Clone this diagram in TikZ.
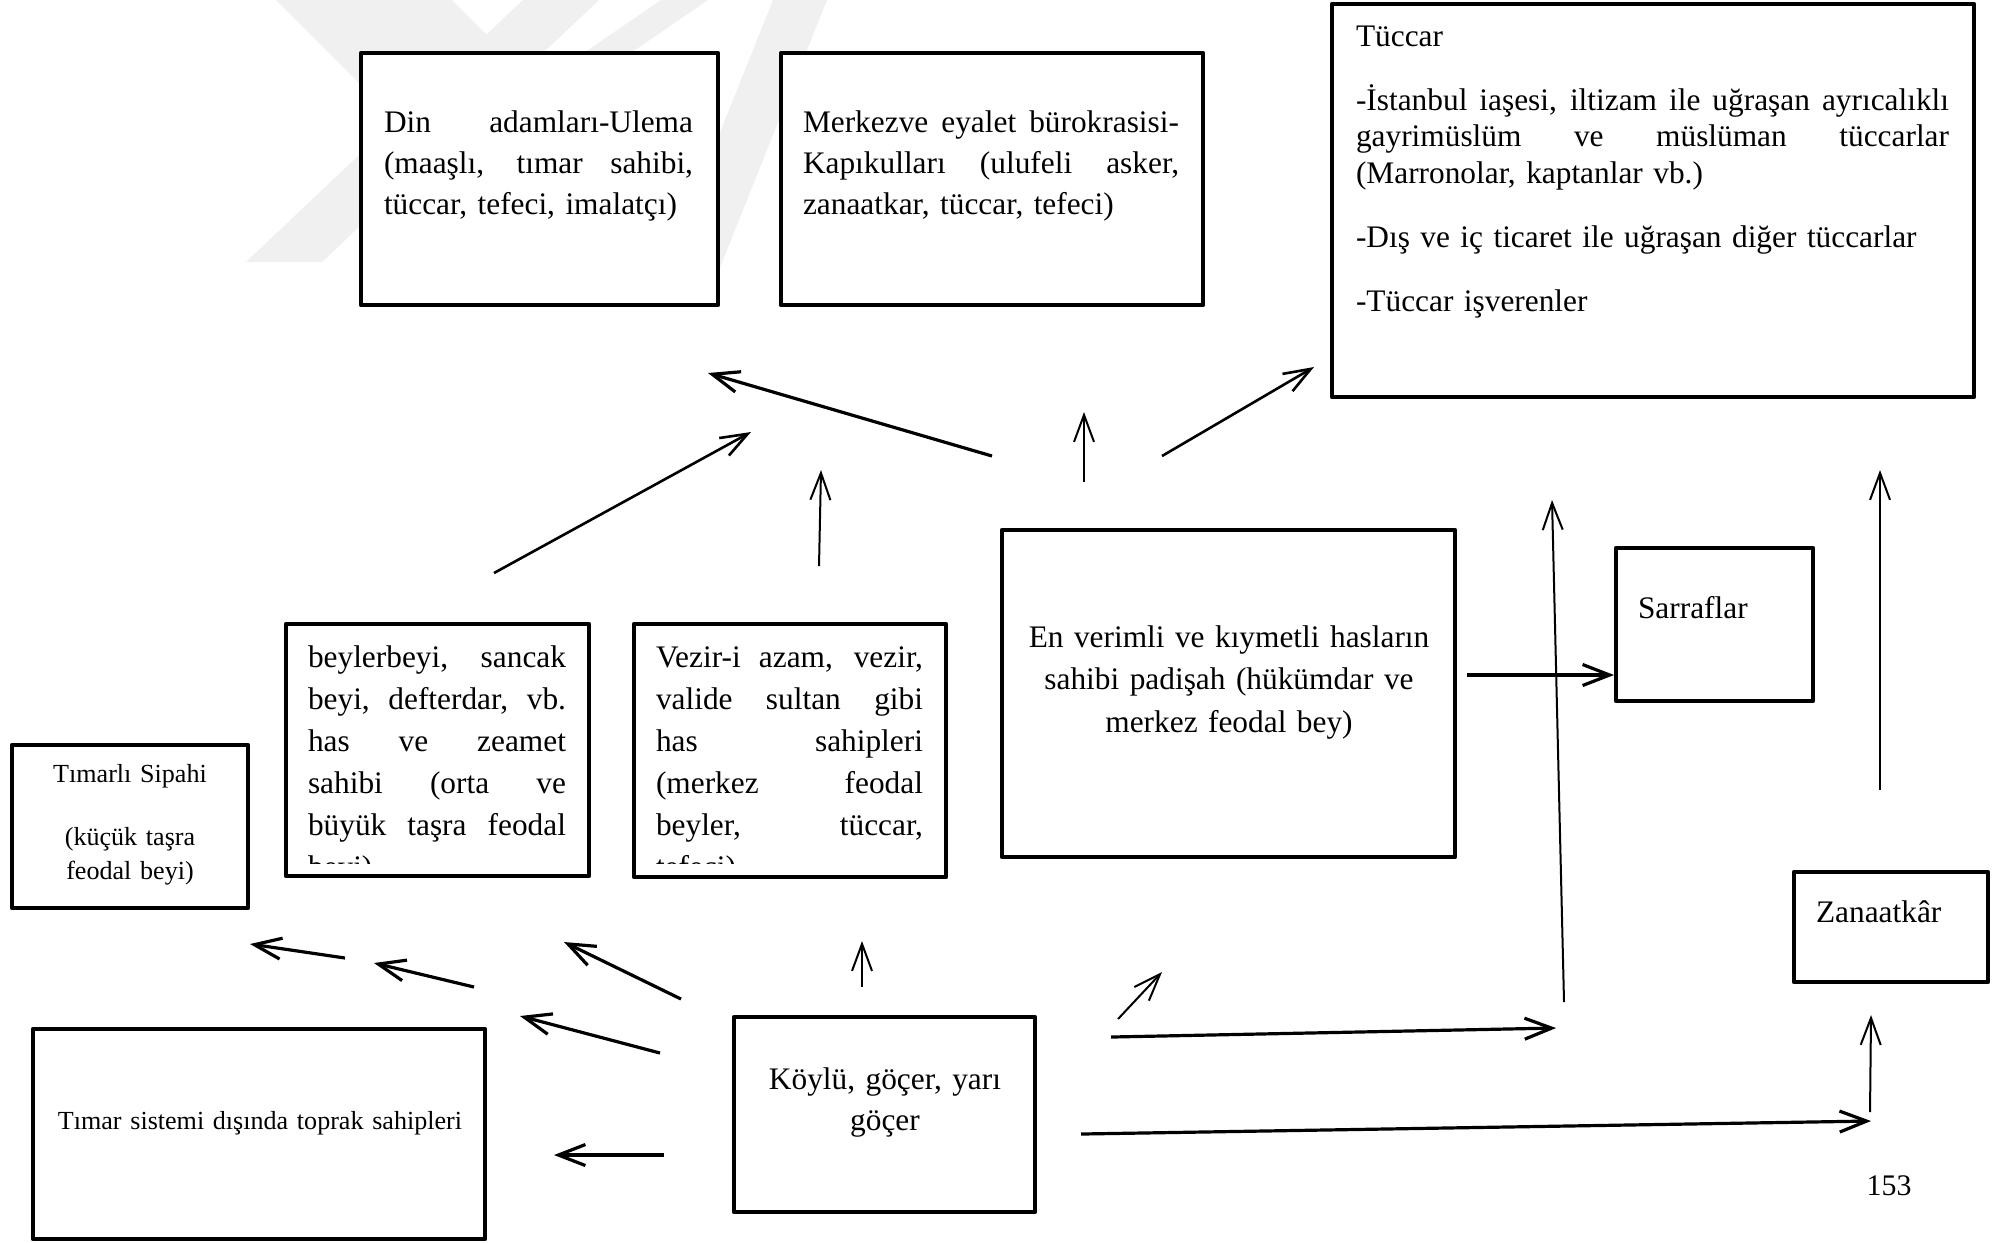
\documentclass[tikz,border=0pt]{standalone}
\usepackage{fontspec}
\setmainfont{Liberation Serif}
\usetikzlibrary{arrows.meta}
\newcommand\jl[2]{\leavevmode\hbox to #1{\spaceskip=0.25em plus 1fil\relax #2}}
\newcommand\bigfont[1]{\fontsize{8.92}{#1}\selectfont}
\newcommand\smallfont[1]{\fontsize{7.42}{#1}\selectfont}
\tikzset{
  box/.style={draw, line width=0.45mm, line join=round, fill=white, inner sep=0pt, outer sep=0pt, anchor=north west},
  txt/.style={inner sep=0pt, outer sep=0pt, anchor=base west, align=left},
  ctxt/.style={inner sep=0pt, outer sep=0pt, anchor=base, align=center},
  arrthick/.style={line width=0.32mm, -{Straight Barb[length=2.7mm,width=2.1mm]}},
  arrmid/.style={line width=0.26mm, -{Straight Barb[length=2.7mm,width=2.0mm]}},
  arrthin/.style={line width=0.2mm, -{Straight Barb[length=2.7mm,width=2.0mm]}},
  wm/.style={fill=black!6, draw=none}
}
\begin{document}
\begin{tikzpicture}[x=0.1mm,y=-0.1mm]
\useasboundingbox (0,0) rectangle (1997,1242);
\fill[white] (0,0) rectangle (1997,1242);
% watermark
\fill[wm] (523,0) -- (599,0) -- (322,262) -- (246,262) -- cycle;
\fill[wm] (276,0) -- (452,0) -- (702,250) -- (526,250) -- cycle;
\fill[wm] (661,0) -- (708,0) -- (533,120) -- (486,120) -- cycle;
\fill[wm] (773,0) -- (827,0) -- (711,290) -- (657,290) -- cycle;
% boxes
\node[box, minimum width=35.7mm, minimum height=25.2mm] (din) at (361,53) {};
\node[box, minimum width=42.2mm, minimum height=25.2mm] (merk) at (781,53) {};
\node[box, minimum width=64.2mm, minimum height=39.3mm] (tuccar) at (1332,4) {};
\node[box, minimum width=30.3mm, minimum height=25.2mm] (bey) at (286,624) {};
\node[box, minimum width=31.2mm, minimum height=25.3mm] (vez) at (634,624) {};
\node[box, minimum width=45.3mm, minimum height=32.7mm] (en) at (1002,530) {};
\node[box, minimum width=19.7mm, minimum height=15.3mm] (sarr) at (1616,548) {};
\node[box, minimum width=23.6mm, minimum height=16.3mm] (tims) at (12,745) {};
\node[box, minimum width=19.4mm, minimum height=11.0mm] (zan) at (1794,872) {};
\node[box, minimum width=45.2mm, minimum height=21.0mm] (timsis) at (33,1029) {};
\node[box, minimum width=30.1mm, minimum height=19.5mm] (koy) at (734,1017) {};
% texts
\node[txt, text width=30.9mm, font=\bigfont{11.8}] (dinT) at (384,132)
  {\jl{30.9mm}{Din adamları-Ulema}\\ \jl{30.9mm}{(maaşlı, tımar sahibi,}\\ tüccar, tefeci, imalatçı)};
\node[txt, text width=37.6mm, font=\bigfont{11.8}] (merkT) at (803,132)
  {\jl{37.6mm}{Merkezve eyalet bürokrasisi-}\\ \jl{37.6mm}{Kapıkulları (ulufeli asker,}\\ zanaatkar, tüccar, tefeci)};
\node[txt, text width=59.3mm, font=\bigfont{10.39}] (tuccarT) at (1356,46)
  {Tüccar\\[2.75mm]
   \jl{59.3mm}{-İstanbul iaşesi, iltizam ile uğraşan ayrıcalıklı}\\
   \jl{59.3mm}{gayrimüslüm ve müslüman tüccarlar}\\
   (Marronolar, kaptanlar vb.)\\[2.75mm]
   -Dış ve iç ticaret ile uğraşan diğer tüccarlar\\[2.75mm]
   -Tüccar işverenler};
\begin{scope}
\clip (286,624) rectangle (589,863);
\node[txt, text width=25.8mm, font=\bigfont{11.95}] (beyT) at (308,667)
  {\jl{25.8mm}{beylerbeyi, sancak}\\ \jl{25.8mm}{beyi, defterdar, vb.}\\ \jl{25.8mm}{has ve zeamet}\\ \jl{25.8mm}{sahibi (orta ve}\\ \jl{25.8mm}{büyük taşra feodal}\\ beyi)};
\end{scope}
\begin{scope}
\clip (634,624) rectangle (946,863);
\node[txt, text width=26.7mm, font=\bigfont{11.95}] (vezT) at (656,667)
  {\jl{26.7mm}{Vezir-i azam, vezir,}\\ \jl{26.7mm}{valide sultan gibi}\\ \jl{26.7mm}{has sahipleri}\\ \jl{26.7mm}{(merkez feodal}\\ \jl{26.7mm}{beyler, tüccar,}\\ tefeci)};
\end{scope}
\node[ctxt, text width=44mm, font=\bigfont{12.09}] (enT) at (1229,647)
  {En verimli ve kıymetli hasların\\ sahibi padişah (hükümdar ve\\ merkez feodal bey)};
\node[txt, font=\bigfont{11.9}] (sarrT) at (1638,618) {Sarraflar};
\node[txt, font=\bigfont{11.9}] (zanT) at (1816,922) {Zanaatkâr};
\node[ctxt, text width=22mm, font=\smallfont{9.67}] (timsT) at (130,782)
  {Tımarlı Sipahi\\[2.9mm] (küçük taşra\\ feodal beyi)};
\node[ctxt, text width=44mm, font=\smallfont{9.67}] (timsisT) at (260,1129) {Tımar sistemi dışında toprak sahipleri};
\node[ctxt, text width=28mm, font=\bigfont{11.67}] (koyT) at (885,1089) {Köylü, göçer, yarı\\ göçer};
\node[ctxt, font=\fontsize{8.5}{10}\selectfont] (page) at (1889,1195) {153};
% arrow end points
\coordinate (a1s) at (992,456);   \coordinate (a1e) at (708,373);
\coordinate (a2s) at (494,573);   \coordinate (a2e) at (751,432);
\coordinate (a3s) at (819,566);   \coordinate (a3e) at (821,470);
\coordinate (a4s) at (1084,482);  \coordinate (a4e) at (1084,412);
\coordinate (a5s) at (1162,456);  \coordinate (a5e) at (1314,367);
\coordinate (a6s) at (1564,1002); \coordinate (a6e) at (1552,500);
\coordinate (a7s) at (1880,790);  \coordinate (a7e) at (1880,470);
\coordinate (a8s) at (1467,675);  \coordinate (a8e) at (1614,675);
\coordinate (a9s) at (345,958);   \coordinate (a9e) at (250,944);
\coordinate (a10s) at (474,987);  \coordinate (a10e) at (374,963);
\coordinate (a11s) at (681,999);  \coordinate (a11e) at (564,942);
\coordinate (a12s) at (660,1053); \coordinate (a12e) at (520,1016);
\coordinate (a13s) at (862,987);  \coordinate (a13e) at (862,941);
\coordinate (a14s) at (1118,1019);\coordinate (a14e) at (1162,972);
\coordinate (a15s) at (1111,1037);\coordinate (a15e) at (1556,1028);
\coordinate (a16s) at (664,1155); \coordinate (a16e) at (554,1155);
\coordinate (a17s) at (1081,1134);\coordinate (a17e) at (1871,1121);
\coordinate (a18s) at (1870,1112);\coordinate (a18e) at (1871,1015);
% arrows
\draw[arrthick] (a1s) -- (a1e);
\draw[arrmid] (a2s) -- (a2e);
\draw[arrthin] (a3s) -- (a3e);
\draw[arrthin] (a4s) -- (a4e);
\draw[arrmid] (a5s) -- (a5e);
\draw[arrthin] (a6s) -- (a6e);
\draw[arrthin] (a7s) -- (a7e);
\draw[arrthick] (a8s) -- (a8e);
\draw[arrthick] (a9s) -- (a9e);
\draw[arrthick] (a10s) -- (a10e);
\draw[arrthick] (a11s) -- (a11e);
\draw[arrthick] (a12s) -- (a12e);
\draw[arrthin] (a13s) -- (a13e);
\draw[arrthin] (a14s) -- (a14e);
\draw[arrthick] (a15s) -- (a15e);
\draw[arrthick] (a16s) -- (a16e);
\draw[arrthick] (a17s) -- (a17e);
\draw[arrthin] (a18s) -- (a18e);
\end{tikzpicture}
\end{document}
